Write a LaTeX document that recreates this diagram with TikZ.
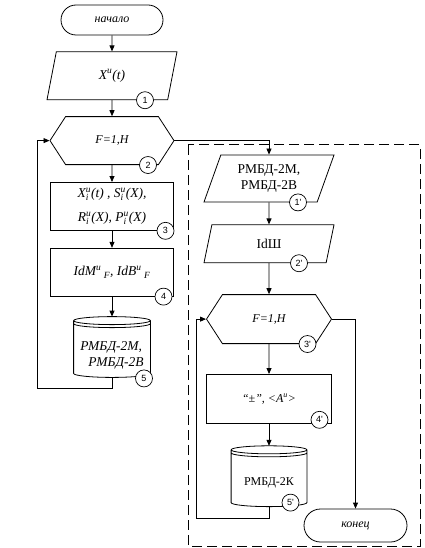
\documentclass[tikz,border=0pt]{standalone}
\usepackage{amsmath}
\usepackage{fontspec}
\setmainfont{Liberation Serif}
\newfontfamily\numfont{Liberation Sans}
\usetikzlibrary{arrows.meta,positioning,shapes.geometric,shapes.symbols,calc}

\newcommand\dfont{\fontsize{12}{15}\selectfont}
\newcommand\bfont{\fontsize{13.5}{16}\selectfont}
\newcommand\idx[2]{$_{\text{#2}}^{\text{#1}}$}
\newcommand\drum[1]{%
  \draw let \p1=(#1.north west), \p2=(#1.south east), \n1={(\x2-\x1)/2} in
    (\x1,\y1-4pt) arc[start angle=180, end angle=540, x radius=\n1, y radius=4pt]
    (\x1,\y1-7pt) arc[start angle=180, end angle=360, x radius=\n1, y radius=4pt]
    (\x1,\y1-4pt) -- (\x1,\y2+4pt)
      arc[start angle=180, end angle=360, x radius=\n1, y radius=4pt] -- (\x2,\y1-4pt);}

\begin{document}
\begin{tikzpicture}[
  >={Triangle[length=6pt,width=5pt]}, line width=0.8pt,
  term/.style={draw, rounded corners=15pt, minimum width=102pt,
               minimum height=30pt, font=\dfont\itshape},
  io/.style={draw, trapezium, trapezium left angle=64, trapezium right angle=116,
             trapezium stretches body, minimum width=130pt, align=center, font=\bfont},
  hexa/.style={draw, signal, signal to=west and east, signal pointer angle=114,
               minimum width=124pt, minimum height=48pt, font=\dfont\itshape},
  proc/.style={draw, minimum width=123pt, minimum height=48pt, align=center,
               font=\bfont\itshape},
  base/.style={minimum width=76pt, minimum height=60pt, align=center, font=\dfont},
  num/.style={circle, draw, fill=white, minimum size=17pt, inner sep=0pt,
              line width=0.7pt, font=\numfont\fontsize{9}{9}\selectfont},
  frame/.style={draw, line width=1pt, dash pattern=on 10pt off 5pt},
  every edge/.style={draw, ->}
]
  \useasboundingbox (0,0) rectangle (425pt,-548pt);

  \node[term] (start) at (112pt,-20pt) {начало};
  \node[io, below=16pt of start, minimum height=48pt, font=\bfont\itshape] (in1)
       {X\textsuperscript{и}(t)};
  \node[hexa, below=16pt of in1] (loop2) {F=1,H};
  \node[proc, below=17pt of loop2] (calc3)
       {X\idx{и}{i}(t) , S\idx{и}{i}(X),\\[8pt] R\idx{и}{i}(X), P\idx{и}{i}(X)};
  \node[proc, below=17pt of calc3] (id4)
       {IdM\textsuperscript{и}\textsubscript{\;F}, IdB\textsuperscript{и}\textsubscript{\;F}};
  \node[base, below=20pt of id4, align=left, font=\bfont\itshape] (db5)
       {\rule{0pt}{26pt}РМБД-2М,\\ \hspace{0.6em}РМБД-2В};

  \node[io, minimum height=47pt] (in1r) at (269pt,-178.5pt) {РМБД-2М,\\РМБД-2В};
  \node[io, below=22pt of in1r, minimum height=38pt] (in2r) {IdШ};
  \node[hexa, below=31pt of in2r, minimum width=125pt, minimum height=49pt] (loop3r) {F=1,H};
  \node[proc, below=30pt of loop3r, minimum width=125pt, minimum height=49pt,
        font=\dfont\itshape] (sign4r) {“±”, <A\textsuperscript{и}>};
  \node[base, below=22pt of sign4r, minimum width=75pt] (db5r) {\rule{0pt}{21pt}РМБД-2К};
  \node[term, minimum width=103pt, minimum height=33pt, rounded corners=16.5pt] (stop)
       at (355.5pt,-525.5pt) {конец};

  \drum{db5}
  \drum{db5r}

  \coordinate (backL) at (37pt,-388pt);
  \coordinate (backR) at (196pt,-518pt);

  \path (start) edge (in1);
  \path (in1) edge (loop2);
  \path (loop2) edge (calc3);
  \path (calc3) edge (id4);
  \path (id4) edge (db5);
  \draw[->] (db5.south) |- (backL) |- (loop2.west);
  \draw[->] (loop2.east) -| (in1r.north);

  \path (in1r) edge (in2r);
  \path (in2r) edge (loop3r);
  \path (loop3r) edge (sign4r);
  \path (sign4r) edge (db5r);
  \draw[->] (db5r.south) |- (backR) |- (loop3r.west);
  \draw[->] (loop3r.east) -| (stop.north);

  \node[num] (k1) at ([xshift=33pt]in1.south) {1};
  \node[num] (k2) at ([xshift=36pt]loop2.south) {2};
  \node[num] (k3) at ([xshift=53.5pt]calc3.south) {3};
  \node[num] (k4) at ([xshift=51.5pt]id4.south) {4};
  \node[num] (k5) at ([xshift=32pt,yshift=-1pt]db5.south) {5};
  \node[num] (k1r) at ([xshift=29pt]in1r.south) {1'};
  \node[num] (k2r) at ([xshift=30pt]in2r.south) {2'};
  \node[num] (k3r) at ([xshift=38.5pt]loop3r.south) {3'};
  \node[num] (k4r) at ([xshift=50.5pt,yshift=4pt]sign4r.south) {4'};
  \node[num] (k5r) at ([xshift=21.5pt,yshift=4pt]db5r.south) {5'};

  \draw[frame] (188pt,-145pt) rectangle (420pt,-546pt);
\end{tikzpicture}
\end{document}
